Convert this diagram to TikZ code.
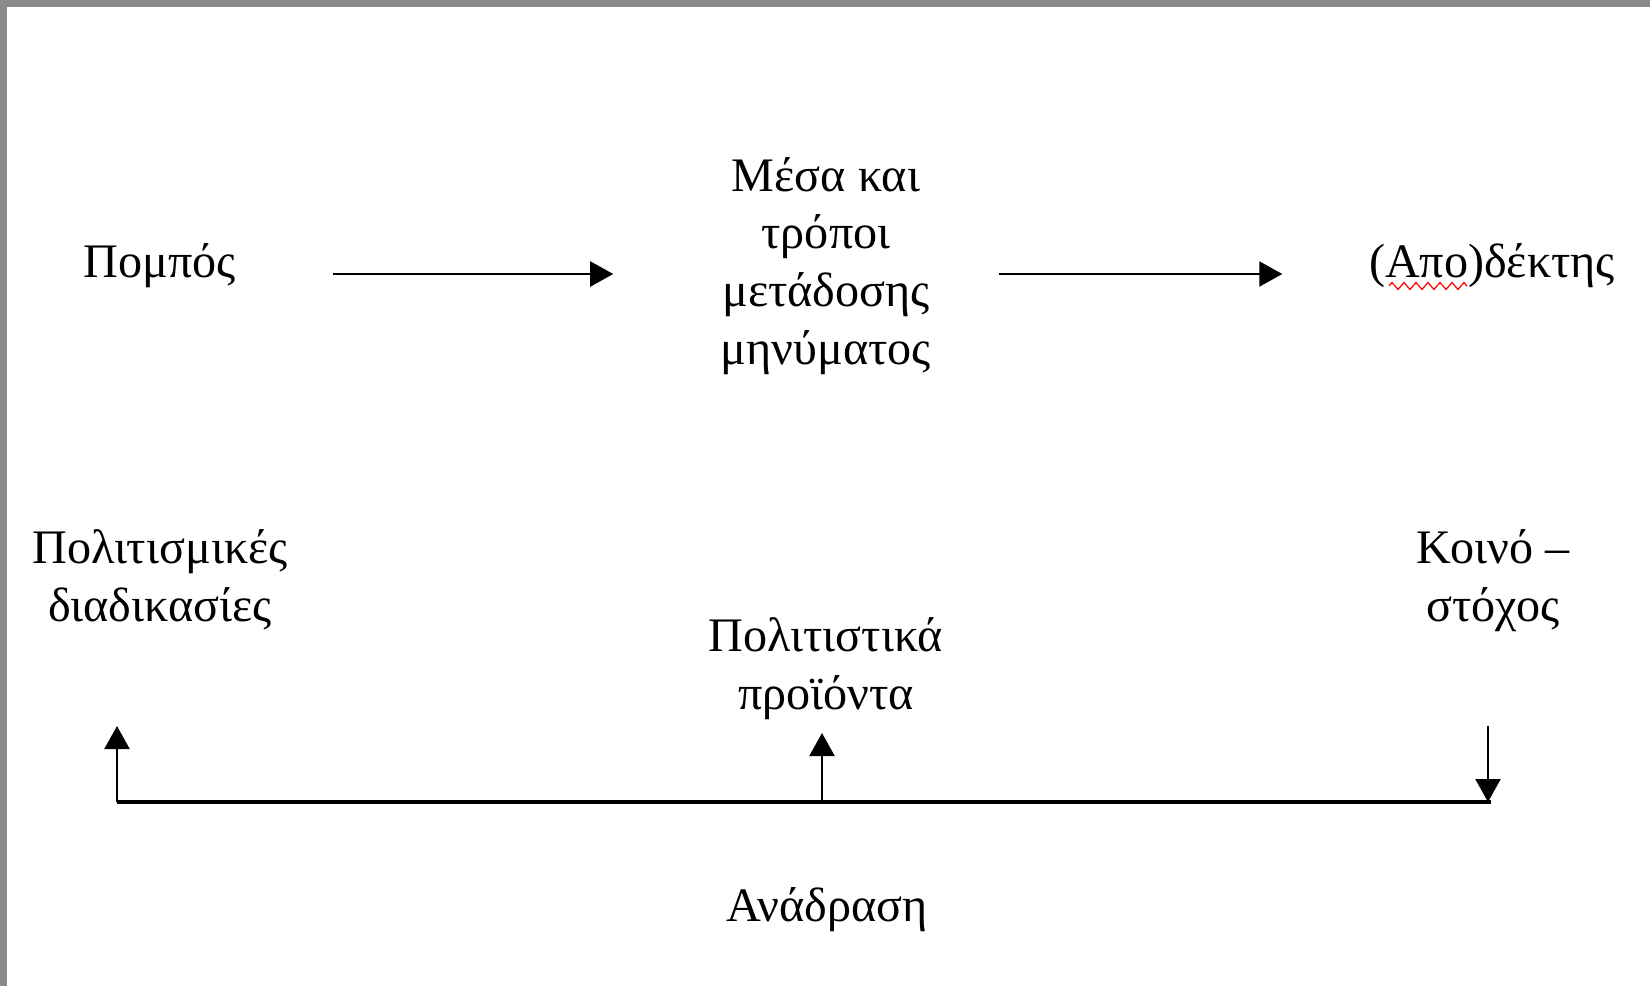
\documentclass[tikz,border=0pt]{standalone}
\usepackage{fontspec}
\setmainfont{Liberation Serif}
\usetikzlibrary{arrows.meta, positioning, decorations.pathmorphing}
\definecolor{framegray}{RGB}{138,138,138}
\tikzset{
	lbl/.style={inner sep=0pt, align=center, anchor=base, font=\fontsize{13.7pt}{16.4pt}\selectfont},
	arr/.style={line width=0.6pt, -{Triangle[length=0.23cm, width=0.25cm]}},
}

\begin{document}
\begin{tikzpicture}
			\useasboundingbox (0,0) rectangle (16.5,-9.86);
			\fill[white] (0,0) rectangle (16.5,-9.86);
			\fill[framegray] (0,0) rectangle (16.5,-0.07);
			\fill[framegray] (0,0) rectangle (0.07,-9.86);
			% top row
			\node[lbl] (pompos) at (1.60,-2.77) {Πομπός};
			\node[lbl] (mesa) at (8.26,-3.64) {Μέσα και\\τρόποι\\μετάδοσης\\μηνύματος};
			\node[lbl] (dektis) at (14.92,-2.77) {(Απο)δέκτης};
			\draw[red, line width=0.35pt, decorate, decoration={zigzag, segment length=0.12cm, amplitude=0.035cm}] (13.89,-2.86) -- (14.67,-2.86);
			\draw[arr, shorten <=0.96cm, shorten >=1.07cm] ([yshift=0.03cm]pompos.base east) -- ([yshift=0.03cm]pompos.base east -| mesa.west);
			\draw[arr, shorten <=0.67cm, shorten >=0.86cm] ([yshift=0.03cm]dektis.base west -| mesa.east) -- ([yshift=0.03cm]dektis.base west);
			% feedback row
			\node[lbl] (politismos) at (1.60,-6.21) {Πολιτισμικές\\διαδικασίες};
			\node[lbl] (proionta) at (8.26,-7.09) {Πολιτιστικά\\προϊόντα};
			\node[lbl] (koino) at (14.93,-6.21) {Κοινό –\\στόχος};
			\node[lbl] (anadrasi) at (8.27,-9.21) {Ανάδραση};
			\coordinate (fbl) at (1.17,-8.02);
			\coordinate (fbm) at (8.22,-8.02);
			\coordinate (fbr) at (14.88,-8.02);
			\draw[line width=1.1pt] (fbl) -- ([xshift=0.03cm]fbr);
			\draw[arr] (fbl) -- ++(0,0.76);
			\draw[arr] (fbm) -- ++(0,0.69);
			\draw[arr] ([yshift=0.76cm]fbr) -- (fbr);
		\end{tikzpicture}
\end{document}
